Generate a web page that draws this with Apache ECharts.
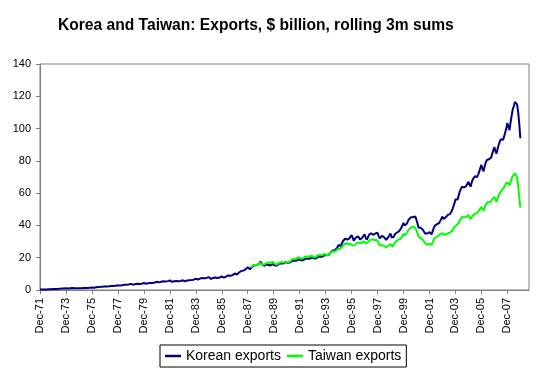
<!DOCTYPE html>
<html>
<head>
<meta charset="utf-8">
<script src="https://cdn.jsdelivr.net/npm/echarts@6/dist/echarts.min.js"></script>
<style>
html,body{margin:0;padding:0;background:#fff;}
#chart{width:547px;height:374px;}
</style>
</head>
<body>
<div id="chart"></div>
<script>
// Monthly categories run from Dec-71 to Aug-09 (axis extends past the last data point)
const firstYear = 1971, firstMonthIdx = 11, categoryCount = 453;
const monthNames = ['Jan','Feb','Mar','Apr','May','Jun','Jul','Aug','Sep','Oct','Nov','Dec'];
const tickLabels = ['Dec-71','Dec-73','Dec-75','Dec-77','Dec-79','Dec-81','Dec-83','Dec-85','Dec-87','Dec-89','Dec-91','Dec-93','Dec-95','Dec-97','Dec-99','Dec-01','Dec-03','Dec-05','Dec-07'];
const yTicks = [0,20,40,60,80,100,120,140];

// Korean exports, $bn rolling 3m sums, Dec-71 .. Dec-08
const koreaExports = [
0.3,
0.30,0.29,0.32,0.34,0.36,0.38,0.40,0.42,0.44,0.46,0.50,0.55,
0.56,0.55,0.62,0.68,0.72,0.78,0.82,0.86,0.88,0.92,0.98,1.02,
1.0,0.95,1.05,1.1,1.15,1.2,1.18,1.12,1.1,1.08,1.1,1.15,
1.1,1.05,1.15,1.2,1.25,1.3,1.32,1.3,1.35,1.4,1.45,1.55,
1.5,1.45,1.6,1.75,1.85,1.9,1.95,1.95,2.0,2.05,2.1,2.25,
2.15,2.1,2.25,2.35,2.45,2.5,2.55,2.55,2.6,2.65,2.75,2.95,
2.8,2.7,2.9,3.0,3.1,3.2,3.3,3.3,3.35,3.4,3.5,3.8,
3.5,3.3,3.5,3.65,3.75,3.8,3.8,3.75,3.8,3.9,4.0,4.3,
4.1,3.9,4.1,4.25,4.35,4.4,4.4,4.35,4.5,4.6,4.8,5.1,
4.9,4.7,4.9,5.1,5.2,5.4,5.4,5.3,5.4,5.5,5.6,5.9,
5.4,5.1,5.2,5.4,5.5,5.6,5.5,5.4,5.5,5.6,5.7,6.0,
5.6,5.3,5.6,5.9,6.0,6.1,6.1,6.2,6.3,6.4,6.6,7.0,
6.7,6.5,6.8,7.1,7.3,7.4,7.4,7.3,7.4,7.5,7.6,8.0,
7.3,6.9,7.1,7.4,7.6,7.7,7.6,7.4,7.5,7.7,7.9,8.4,
8.0,7.6,7.9,8.3,8.7,9.0,9.2,8.8,8.9,9.2,9.6,10.2,
10.0,9.6,10.2,10.8,11.3,11.8,12.1,12.0,12.3,12.8,13.4,14.2,
13.5,12.8,13.4,14.3,15.0,15.4,15.6,15.4,15.6,16.0,16.7,17.5,
16.0,14.8,15.0,15.3,15.6,15.8,15.6,15.0,15.2,15.5,16.0,17.0,
15.2,14.6,15.2,15.9,16.3,16.5,16.4,16.2,16.4,16.8,17.3,18.0,
16.8,16.2,17.0,17.6,18.0,18.3,18.3,17.9,18.1,18.5,19.0,19.8,
18.5,17.8,18.4,19.0,19.3,19.5,19.4,19.1,19.3,19.7,20.2,21.0,
19.6,18.8,19.5,20.2,20.6,20.9,20.8,20.4,20.6,21.1,21.7,22.8,
21.5,20.8,21.8,22.9,23.7,24.3,24.5,24.3,24.8,25.6,26.5,28.0,
27.5,27.2,28.8,30.2,31.0,31.8,32.1,31.2,31.4,32.0,32.8,34.0,
32.5,30.5,31.5,32.5,33.0,33.2,32.5,31.2,31.5,32.5,33.5,34.5,
32.5,31.0,32.5,34.0,34.8,35.2,35.0,34.2,34.5,35.0,35.2,35.5,
33.5,32.0,33.0,33.5,33.2,32.8,32.0,31.0,31.8,32.8,33.8,35.0,
32.5,31.5,33.0,34.5,35.0,35.6,36.2,36.5,37.0,38.5,39.5,41.5,
40.0,39.0,41.0,42.5,43.8,44.5,45.0,44.8,45.2,46.0,45.5,44.5,
41.0,38.5,39.0,38.5,38.0,37.2,36.0,35.0,34.5,35.0,35.5,35.8,
35.0,34.5,36.5,38.5,39.8,40.5,40.8,40.5,41.5,42.8,44.0,45.5,
44.0,43.5,45.0,46.0,46.5,46.8,47.0,47.5,49.5,51.5,53.5,56.0,
56.5,56.0,58.5,61.0,62.5,64.0,64.5,63.5,64.0,64.5,65.5,67.0,
66.0,64.0,66.5,68.5,69.5,70.5,70.5,70.0,71.5,73.5,75.5,77.5,
75.0,73.5,76.5,79.0,80.5,81.5,81.0,80.0,82.0,84.5,86.5,88.5,
86.0,84.5,87.5,90.0,92.0,93.5,94.0,93.0,95.0,97.5,100.0,103.5,
101.0,99.0,104.0,108.0,112.0,114.0,116.5,117.5,115.0,110.0,103.0,94.0
];

// Taiwan exports, $bn rolling 3m sums, Mar-88 .. Dec-08
const taiwanStart = 'Mar-88';
const taiwanExports = [
14.0,14.8,15.3,15.6,15.5,15.2,15.6,16.2,16.8,17.2,
16.0,15.2,15.6,16.2,16.6,17.0,17.0,16.7,16.8,17.2,17.5,17.8,
16.2,15.4,15.8,16.4,16.8,17.0,17.2,16.9,17.0,17.3,17.6,18.0,
17.2,16.8,17.6,18.5,19.0,19.3,19.4,19.2,19.5,19.9,20.3,20.8,
19.5,18.8,19.6,20.2,20.6,20.9,20.8,20.5,20.6,21.0,21.3,21.6,
20.3,19.8,20.5,21.2,21.6,21.8,21.7,21.4,21.6,22.0,22.4,22.9,
21.5,20.8,22.0,23.0,23.5,23.8,23.9,23.6,24.0,24.6,25.2,25.8,
25.5,25.2,26.5,27.6,28.3,28.8,29.0,28.4,28.2,28.4,28.6,29.0,
27.6,26.8,27.8,28.6,29.2,29.4,29.3,28.8,29.1,29.6,30.2,30.8,
29.0,28.2,29.4,30.2,30.8,31.2,31.4,30.9,31.0,31.2,31.0,30.8,
29.2,27.5,27.6,27.8,27.5,27.3,27.0,26.6,26.9,27.4,27.9,28.4,
27.2,26.8,28.2,29.3,30.0,30.6,31.2,31.3,31.6,32.2,33.4,34.8,
34.5,34.0,35.6,36.8,37.5,38.2,38.8,38.9,39.2,39.0,38.5,37.5,
35.0,32.8,32.6,32.2,31.8,31.0,30.0,29.0,28.3,28.0,28.2,28.8,
28.5,28.0,29.5,31.2,32.2,32.8,33.3,33.5,34.0,34.6,35.0,35.3,
34.0,33.5,34.5,35.2,35.0,35.2,35.6,35.9,36.6,37.8,39.0,40.2,
40.0,39.8,41.5,43.0,44.2,45.2,45.5,45.0,45.0,45.2,45.6,46.4,
45.5,44.0,45.0,46.2,46.8,47.2,47.6,47.6,48.4,49.5,50.5,51.4,
50.6,49.2,51.0,52.8,53.8,54.6,54.8,54.2,55.0,56.2,57.0,57.6,
56.2,54.8,56.6,58.6,60.0,61.2,62.0,62.6,63.6,65.0,66.5,67.6,
66.2,64.8,67.0,69.0,70.5,71.5,72.3,71.8,69.5,64.5,57.5,51.0
];

const seriesNames = ['Korean exports','Taiwan exports'];

// Build the monthly category list
const categories = [];
for (let i = 0; i < categoryCount; i++) {
  const m = (firstMonthIdx + i) % 12;
  const y = firstYear + Math.floor((firstMonthIdx + i) / 12);
  categories.push(monthNames[m] + '-' + String(y % 100).padStart(2, '0'));
}
const koreaData = categories.map((c, i) => i < koreaExports.length ? koreaExports[i] : null);
const twOffset = categories.indexOf(taiwanStart);
const taiwanData = categories.map((c, i) => (i >= twOffset && i - twOffset < taiwanExports.length) ? taiwanExports[i - twOffset] : null);

const FONT = 'Liberation Sans, Arial, sans-serif';
const chart = echarts.init(document.getElementById('chart'), null, {renderer: 'canvas'});
chart.setOption({
  animation: false,
  backgroundColor: '#ffffff',
  title: {
    text: 'Korea and Taiwan: Exports, $ billion, rolling 3m sums',
    left: 58, top: 18, padding: 0,
    textStyle: {fontFamily: FONT, fontSize: 15.6, fontWeight: 'bold', color: '#000'}
  },
  legend: {
    data: seriesNames,
    left: 160, top: 345,
    padding: [4, 5, 4, 5],
    itemGap: 6, itemWidth: 16, itemHeight: 2.5,
    icon: 'rect',
    borderColor: '#000', borderWidth: 1, borderRadius: 0,
    textStyle: {fontFamily: FONT, fontSize: 14, color: '#000', lineHeight: 14, padding: [0, 0, 0, 0]}
  },
  grid: {
    left: 40, right: 18, top: 64, bottom: 84,
    show: true, borderColor: '#808080', borderWidth: 1, backgroundColor: 'transparent'
  },
  xAxis: {
    type: 'category',
    data: categories,
    boundaryGap: false,
    axisLine: {lineStyle: {color: '#808080', width: 1}},
    axisTick: {interval: 23, length: 4, lineStyle: {color: '#808080'}},
    axisLabel: {
      interval: 23, rotate: 90, margin: 8,
      fontFamily: FONT, fontSize: 11, color: '#000',
      formatter: v => tickLabels.indexOf(v) >= 0 ? v : ''
    },
    splitLine: {show: false}
  },
  yAxis: {
    type: 'value',
    min: yTicks[0], max: yTicks[yTicks.length - 1], interval: 20,
    axisLine: {show: true, lineStyle: {color: '#808080', width: 1}},
    axisTick: {show: true, length: 4, lineStyle: {color: '#808080'}},
    axisLabel: {margin: 9, fontFamily: FONT, fontSize: 11, color: '#000'},
    splitLine: {show: false}
  },
  series: [
    {
      name: seriesNames[0], type: 'line', data: koreaData,
      symbol: 'none', connectNulls: false,
      lineStyle: {color: '#000080', width: 2}, itemStyle: {color: '#000080'}
    },
    {
      name: seriesNames[1], type: 'line', data: taiwanData,
      symbol: 'none', connectNulls: false,
      lineStyle: {color: '#00ff00', width: 2}, itemStyle: {color: '#00ff00'}
    }
  ]
});
</script>
</body>
</html>
